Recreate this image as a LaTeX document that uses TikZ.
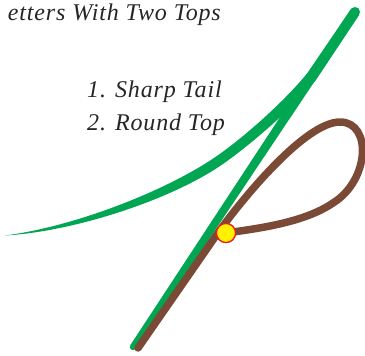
\documentclass[tikz,border=0pt]{standalone}
\usepackage{fontspec}
\setmainfont{Liberation Serif}
\newfontfamily\lblfont{Liberation Serif}[LetterSpace=3.5]
\definecolor{lgreen}{HTML}{00A651}
\definecolor{lbrown}{HTML}{7A4A36}
\definecolor{dotyellow}{HTML}{FFF200}
\definecolor{dotred}{HTML}{ED1C24}
\tikzset{
  label text/.style={font=\lblfont\fontsize{24}{28}\selectfont\itshape, inner sep=0pt, text=black!85},
  brown stroke/.style={draw=lbrown, line width=7.5pt, line cap=round, line join=round},
  junction/.style={circle, fill=dotyellow, draw=dotred, line width=1.2pt, minimum size=19pt, inner sep=0pt}
}
\begin{document}
\begin{tikzpicture}[x=1pt,y=-1pt]
\useasboundingbox (0,0) rectangle (365,356);
\fill[white] (0,0) rectangle (365,356);
% texts
\node[label text, anchor=base east] (title) at (221,20) {etters With Two Tops};
\node[label text, anchor=base west] (l1) at (87,97.5) {1. Sharp Tail};
\node[label text, anchor=base west] (l2) at (87,130.5) {2. Round Top};
% green curved stroke (tapered), merging into the straight stroke
\coordinate (gtip) at (355,12);
\coordinate (gleft) at (5,235.5);
\fill[lgreen] (gleft) .. controls (74.8,226.5) and (164.2,191.45) .. (214.2,157.85)
  .. controls (243.2,138.25) and (286,99.9) .. (307.7,72.6)
  -- (350.85,9.25) -- (359.15,14.75) -- (316.3,79.4)
  .. controls (294.6,106.7) and (248.8,146.55) .. (219.8,166.15)
  .. controls (169.8,199.75) and (75.2,231.5) .. (gleft) -- cycle;
% green straight stroke (slightly tapered)
\coordinate (gbot) at (133,347);
\fill[lgreen] (130.3,345.2) -- (350.85,9.25) -- (359.15,14.75) -- (135.7,348.8) -- cycle;
\fill[lgreen] (gtip) circle (5);
\fill[lgreen] (gbot) circle (3.2);
% brown stroke with loop
\coordinate (bbot) at (138,348);
\coordinate (ltop) at (340,122);
\coordinate (lright) at (333,203);
\node[junction] (dot) at (226,233) {};
\draw[brown stroke] (bbot) -- (215,237)
  .. controls (241,200) and (305,122) .. (ltop)
  .. controls (372,122) and (370,180) .. (lright)
  .. controls (305,222) and (262,228) .. (dot.center);
\node[junction] at (dot) {};
\end{tikzpicture}
\end{document}
